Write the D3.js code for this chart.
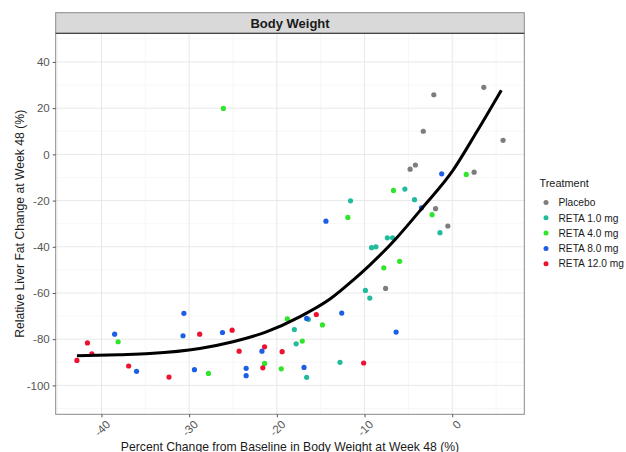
<!DOCTYPE html>
<html>
<head>
<meta charset="utf-8">
<script src="https://cdn.jsdelivr.net/npm/d3@7"></script>
<style>
  html, body { margin: 0; padding: 0; background: #ffffff; }
  svg { display: block; font-family: "Liberation Sans", Arial, sans-serif; }
</style>
</head>
<body>
<svg id="chart" width="626" height="452"></svg>
<script>
// Treatment groups and their colours
const groups = ["Placebo", "RETA 1.0 mg", "RETA 4.0 mg", "RETA 8.0 mg", "RETA 12.0 mg"];
const groupColors = ["#7d7d7d", "#22bb9c", "#2ee52a", "#1c5fe6", "#ec1230"];

// Per-subject values: [weight change %, liver fat change %]
const placebo = [
  [-4.8, -6.4], [-4.2, -4.6], [-1.9, -23.5], [-0.5, -31.0], [-7.6, -58.0],
  [-2.1, 25.8], [3.6, 29.0], [-3.3, 10.0], [5.8, 6.1], [2.5, -7.7]
];
const reta1 = [
  [-18.0, -75.8], [-17.8, -82.0], [-16.4, -71.4], [-16.6, -96.5], [-12.8, -90.0],
  [-5.4, -15.0], [-4.3, -19.6], [-11.6, -20.1], [-1.4, -33.9], [-7.4, -36.1],
  [-6.8, -36.1], [-9.2, -40.4], [-8.7, -40.0], [-9.9, -58.9], [-9.4, -62.2]
];
const reta4 = [
  [-38.1, -81.1], [-27.8, -94.8], [-21.4, -90.5], [-19.5, -92.8], [-18.8, -71.2],
  [-17.1, -80.8], [-14.8, -73.8], [1.6, -8.7], [-6.7, -15.6], [-11.9, -27.3],
  [-2.3, -26.1], [-6.0, -46.3], [-7.8, -49.1], [-26.1, 19.9]
];
const reta8 = [
  [-38.5, -77.8], [-36.0, -93.9], [-30.6, -68.8], [-30.7, -78.5], [-29.4, -93.2],
  [-26.2, -77.1], [-23.5, -92.6], [-23.5, -95.8], [-21.7, -85.2], [-16.6, -71.0],
  [-16.9, -92.2], [-12.6, -68.7], [-1.2, -8.4], [-14.4, -28.9], [-3.5, -23.1],
  [-6.4, -76.9]
];
const reta12 = [
  [-42.8, -89.2], [-41.6, -81.6], [-41.1, -86.3], [-36.9, -91.6], [-32.3, -96.4],
  [-28.8, -77.8], [-25.1, -76.1], [-24.3, -85.2], [-21.4, -83.3], [-21.6, -92.4],
  [-19.4, -85.4], [-15.5, -69.3], [-10.1, -90.3]
];

// Fitted trend
const fitX = [-42.8, -38, -34.5, -28.8, -25, -21.2, -17.4, -13.9, -11.3, -9.4, -6.5, -3.4, 0.1, 2.8, 5.6];
const fitY = [-87.2, -86.7, -86.2, -84.0, -81.1, -76.8, -70.3, -62.5, -54.4, -47.9, -36.8, -23.1, -6.8, 9.8, 27.8];

// Axis breaks
const xMajor = [-40, -30, -20, -10, 0];
const xMinor = [-45, -35, -25, -15, -5, 5];
const yMajor = [-100, -80, -60, -40, -20, 0, 20, 40];
const yMinor = [-110, -90, -70, -50, -30, -10, 10, 30, 50];
const xLimits = [-45.22, 8.22];
const yLimits = [-112.5, 52.4];

const panelTitle = "Body Weight";
const xTitle = "Percent Change from Baseline in Body Weight at Week 48 (%)";
const yTitle = "Relative Liver Fat Change at Week 48 (%)";
const legendTitle = "Treatment";

const seriesData = [placebo, reta1, reta4, reta8, reta12];

const svg = d3.select("#chart");
const P = { left: 55.7, right: 524.3, top: 33.3, bottom: 414.3, stripTop: 12.7 };

const x = d3.scaleLinear().domain(xLimits).range([P.left, P.right]);
const y = d3.scaleLinear().domain(yLimits).range([P.bottom, P.top]);
const color = d3.scaleOrdinal().domain(groups).range(groupColors);

// panel background
svg.append("rect")
  .attr("x", P.left).attr("y", P.top)
  .attr("width", P.right - P.left).attr("height", P.bottom - P.top)
  .attr("fill", "#ffffff");

// grid lines
const grid = svg.append("g");
grid.selectAll(".xmin").data(xMinor).join("line")
  .attr("x1", d => x(d)).attr("x2", d => x(d))
  .attr("y1", P.top).attr("y2", P.bottom)
  .attr("stroke", "#f2f2f2").attr("stroke-width", 0.6);
grid.selectAll(".ymin").data(yMinor).join("line")
  .attr("y1", d => y(d)).attr("y2", d => y(d))
  .attr("x1", P.left).attr("x2", P.right)
  .attr("stroke", "#f2f2f2").attr("stroke-width", 0.6);
grid.selectAll(".xmaj").data(xMajor).join("line")
  .attr("x1", d => x(d)).attr("x2", d => x(d))
  .attr("y1", P.top).attr("y2", P.bottom)
  .attr("stroke", "#e8e8e8").attr("stroke-width", 1);
grid.selectAll(".ymaj").data(yMajor).join("line")
  .attr("y1", d => y(d)).attr("y2", d => y(d))
  .attr("x1", P.left).attr("x2", P.right)
  .attr("stroke", "#e8e8e8").attr("stroke-width", 1);

// points
seriesData.forEach((pts, i) => {
  svg.append("g").selectAll("circle").data(pts).join("circle")
    .attr("cx", d => x(d[0])).attr("cy", d => y(d[1]))
    .attr("r", 2.6)
    .attr("fill", color(groups[i]));
});

// trend line
const fit = fitX.map((v, i) => [v, fitY[i]]);
svg.append("path")
  .datum(fit)
  .attr("fill", "none")
  .attr("stroke", "#000000")
  .attr("stroke-width", 3)
  .attr("stroke-linecap", "butt")
  .attr("d", d3.line().x(d => x(d[0])).y(d => y(d[1])).curve(d3.curveMonotoneX));

// panel border
svg.append("rect")
  .attr("x", P.left).attr("y", P.top)
  .attr("width", P.right - P.left).attr("height", P.bottom - P.top)
  .attr("fill", "none").attr("stroke", "#8a8a8a").attr("stroke-width", 1);

// strip
svg.append("rect")
  .attr("x", P.left).attr("y", P.stripTop)
  .attr("width", P.right - P.left).attr("height", P.top - P.stripTop)
  .attr("fill", "#d9d9d9").attr("stroke", "#8a8a8a").attr("stroke-width", 1);
svg.append("line")
  .attr("x1", P.left).attr("x2", P.right).attr("y1", P.top).attr("y2", P.top)
  .attr("stroke", "#444444").attr("stroke-width", 1.2);
svg.append("text")
  .attr("x", (P.left + P.right) / 2).attr("y", (P.stripTop + P.top) / 2 + 4.6)
  .attr("text-anchor", "middle")
  .attr("font-size", 13).attr("font-weight", "bold").attr("fill", "#1a1a1a")
  .text(panelTitle);

// y axis
const yAxis = d3.axisLeft(y).tickValues(yMajor).tickSize(3).tickPadding(3)
  .tickFormat(d => String(d));
const gy = svg.append("g").attr("transform", `translate(${P.left},0)`).call(yAxis);
gy.select(".domain").remove();
gy.selectAll(".tick line").attr("stroke", "#555555");
gy.selectAll(".tick text").attr("fill", "#555555").attr("font-size", 11.5)
  .attr("font-family", "Liberation Sans, Arial, sans-serif");

// x axis, labels turned 45 degrees
const xAxis = d3.axisBottom(x).tickValues(xMajor).tickSize(3)
  .tickFormat(d => String(d));
const gx = svg.append("g").attr("transform", `translate(0,${P.bottom})`).call(xAxis);
gx.select(".domain").remove();
gx.selectAll(".tick line").attr("stroke", "#555555");
gx.selectAll(".tick text")
  .attr("fill", "#555555").attr("font-size", 11.5)
  .attr("font-family", "Liberation Sans, Arial, sans-serif")
  .attr("text-anchor", "end")
  .attr("dy", null)
  .attr("y", 0)
  .attr("transform", "translate(9,11) rotate(-45)");

// axis titles
svg.append("text")
  .attr("x", (P.left + P.right) / 2).attr("y", 450.5)
  .attr("text-anchor", "middle").attr("font-size", 12.2).attr("fill", "#1a1a1a")
  .text(xTitle);
svg.append("text")
  .attr("transform", `translate(23.5,${(P.top + P.bottom) / 2}) rotate(-90)`)
  .attr("text-anchor", "middle").attr("font-size", 12.2).attr("fill", "#1a1a1a")
  .text(yTitle);

// legend
const lg = svg.append("g").attr("transform", "translate(539.5,0)");
lg.append("text").attr("x", 0).attr("y", 187).attr("font-size", 10.9).attr("fill", "#1a1a1a")
  .text(legendTitle);
const items = lg.selectAll(".item").data(groups).join("g")
  .attr("transform", (d, i) => `translate(0,${202.5 + i * 15.3})`);
items.append("circle").attr("cx", 6.5).attr("cy", 0).attr("r", 2.5).attr("fill", d => color(d));
items.append("text").attr("x", 19).attr("y", 3.7).attr("font-size", 10.2).attr("fill", "#1a1a1a")
  .text(d => d);
</script>
</body>
</html>
